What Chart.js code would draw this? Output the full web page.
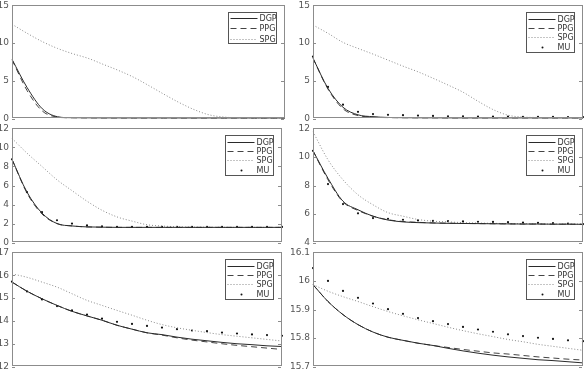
<!DOCTYPE html>
<html>
<head>
<meta charset="UTF-8">
<title>DGP / PPG / SPG / MU</title>
<script src="https://cdn.jsdelivr.net/npm/chart.js"></script>
<style>
  html, body { margin: 0; padding: 0; background: #fff; }
  body { width: 587px; height: 371px; position: relative; overflow: hidden; }
  .panel { position: absolute; }
</style>
</head>
<body>
<script>
// iterations (x axis, not labelled in the figure)
const iterations = [1, 2, 3, 4, 5, 6, 7, 8, 9, 10, 11, 12, 13, 14, 15, 16, 17, 18, 19];

// panel 1 (top left)
const p1Ticks = [0, 5, 10, 15];
const p1Dgp = [7.85, 4.1, 1.3, 0.25, 0.1, 0.07, 0.05, 0.05, 0.04, 0.04, 0.04, 0.03, 0.03, 0.03, 0.03, 0.03, 0.03, 0.03, 0.03];
const p1Ppg = [7.8, 3.7, 1.0, 0.2, 0.08, 0.06, 0.05, 0.04, 0.04, 0.04, 0.04, 0.04, 0.04, 0.04, 0.04, 0.04, 0.04, 0.04, 0.04];
const p1Spg = [12.5, 11.3, 10.2, 9.3, 8.6, 8.0, 7.2, 6.4, 5.5, 4.4, 3.25, 2.15, 1.2, 0.5, 0.2, 0.1, 0.06, 0.05, 0.05];

// panel 2 (top right)
const p2Ticks = [0, 5, 10, 15];
const p2Dgp = [8.0, 4.0, 1.5, 0.5, 0.25, 0.15, 0.1, 0.08, 0.07, 0.06, 0.05, 0.05, 0.05, 0.05, 0.05, 0.05, 0.05, 0.05, 0.05];
const p2Ppg = [8.0, 3.9, 1.3, 0.4, 0.2, 0.12, 0.09, 0.07, 0.06, 0.05, 0.05, 0.05, 0.05, 0.05, 0.05, 0.05, 0.05, 0.05, 0.05];
const p2Spg = [12.4, 11.3, 10.1, 9.3, 8.55, 7.75, 6.95, 6.2, 5.35, 4.45, 3.5, 2.3, 1.2, 0.45, 0.2, 0.15, 0.1, 0.1, 0.1];
const p2Mu  = [8.2, 4.2, 1.85, 0.9, 0.6, 0.5, 0.45, 0.4, 0.35, 0.3, 0.3, 0.28, 0.26, 0.25, 0.24, 0.23, 0.22, 0.21, 0.2];

// panel 3 (middle left)
const p3Ticks = [0, 2, 4, 6, 8, 10, 12];
const p3Dgp = [8.75, 5.3, 3.1, 2.0, 1.75, 1.65, 1.62, 1.6, 1.6, 1.6, 1.6, 1.6, 1.6, 1.6, 1.6, 1.6, 1.6, 1.6, 1.6];
const p3Ppg = [8.75, 5.2, 3.0, 2.0, 1.75, 1.65, 1.62, 1.6, 1.6, 1.6, 1.6, 1.6, 1.6, 1.6, 1.6, 1.6, 1.6, 1.6, 1.6];
const p3Spg = [10.95, 9.4, 8.0, 6.6, 5.46, 4.35, 3.4, 2.7, 2.26, 1.88, 1.74, 1.67, 1.63, 1.62, 1.61, 1.6, 1.6, 1.6, 1.6];
const p3Mu  = [8.75, 5.3, 3.2, 2.35, 2.0, 1.8, 1.7, 1.65, 1.65, 1.65, 1.65, 1.65, 1.65, 1.65, 1.65, 1.65, 1.65, 1.65, 1.65];

// panel 4 (middle right)
const p4Ticks = [4, 6, 8, 10, 12];
const p4Dgp = [10.43, 8.5, 6.9, 6.3, 5.85, 5.58, 5.45, 5.4, 5.37, 5.35, 5.34, 5.33, 5.32, 5.31, 5.3, 5.3, 5.29, 5.29, 5.28];
const p4Ppg = [10.43, 8.4, 6.85, 6.25, 5.85, 5.6, 5.48, 5.42, 5.38, 5.36, 5.34, 5.33, 5.32, 5.31, 5.3, 5.3, 5.29, 5.29, 5.28];
const p4Spg = [11.77, 9.8, 8.4, 7.35, 6.65, 6.1, 5.85, 5.62, 5.5, 5.45, 5.4, 5.37, 5.35, 5.33, 5.32, 5.31, 5.3, 5.3, 5.3];
const p4Mu  = [10.43, 8.1, 6.7, 6.05, 5.72, 5.67, 5.6, 5.55, 5.52, 5.5, 5.48, 5.46, 5.45, 5.43, 5.4, 5.38, 5.36, 5.33, 5.3];

// panel 5 (bottom left)
const p5Ticks = [12, 13, 14, 15, 16, 17];
const p5Dgp = [15.7, 15.3, 14.97, 14.68, 14.42, 14.22, 14.03, 13.81, 13.64, 13.48, 13.4, 13.29, 13.2, 13.13, 13.06, 13.0, 12.96, 12.91, 12.88];
const p5Ppg = [15.7, 15.3, 14.97, 14.68, 14.42, 14.22, 14.03, 13.81, 13.64, 13.48, 13.38, 13.26, 13.16, 13.08, 13.0, 12.93, 12.87, 12.81, 12.75];
const p5Spg = [16.06, 15.91, 15.7, 15.48, 15.19, 14.9, 14.68, 14.46, 14.25, 14.03, 13.84, 13.7, 13.59, 13.49, 13.4, 13.33, 13.26, 13.19, 13.12];
const p5Mu  = [15.72, 15.29, 14.94, 14.65, 14.46, 14.28, 14.1, 13.96, 13.87, 13.78, 13.71, 13.64, 13.58, 13.55, 13.49, 13.45, 13.41, 13.38, 13.35];

// panel 6 (bottom right)
const p6Ticks = [15.7, 15.8, 15.9, 16, 16.1];
const p6Dgp = [15.987, 15.928, 15.882, 15.847, 15.821, 15.803, 15.792, 15.782, 15.774, 15.764, 15.755, 15.747, 15.74, 15.734, 15.729, 15.724, 15.721, 15.717, 15.713];
const p6Ppg = [15.987, 15.928, 15.882, 15.847, 15.821, 15.803, 15.792, 15.782, 15.774, 15.767, 15.76, 15.754, 15.748, 15.744, 15.739, 15.734, 15.73, 15.726, 15.723];
const p6Spg = [15.987, 15.964, 15.945, 15.928, 15.91, 15.893, 15.878, 15.864, 15.851, 15.838, 15.826, 15.815, 15.805, 15.795, 15.787, 15.778, 15.771, 15.764, 15.757];
const p6Mu  = [16.045, 16.0, 15.965, 15.941, 15.921, 15.901, 15.885, 15.87, 15.859, 15.849, 15.839, 15.83, 15.822, 15.813, 15.807, 15.801, 15.797, 15.792, 15.789];

// plot boxes in page pixels
const panels = [
  { left: 12,  top: 5,   w: 273, h: 114, ticks: p1Ticks, series: [p1Dgp, p1Ppg, p1Spg] },
  { left: 313, top: 5,   w: 273, h: 114, ticks: p2Ticks, series: [p2Dgp, p2Ppg, p2Spg, p2Mu] },
  { left: 12,  top: 128, w: 273, h: 115, ticks: p3Ticks, series: [p3Dgp, p3Ppg, p3Spg, p3Mu] },
  { left: 313, top: 128, w: 273, h: 115, ticks: p4Ticks, series: [p4Dgp, p4Ppg, p4Spg, p4Mu] },
  { left: 12,  top: 252, w: 273, h: 115, ticks: p5Ticks, series: [p5Dgp, p5Ppg, p5Spg, p5Mu] },
  { left: 313, top: 252, w: 273, h: 115, ticks: p6Ticks, series: [p6Dgp, p6Ppg, p6Spg, p6Mu] }
];

const names = ['DGP', 'PPG', 'SPG', 'MU'];
const styles = [
  { borderColor: '#2a2a2a', borderDash: [] },
  { borderColor: '#444', borderDash: [6, 4] },
  { borderColor: '#8a8a8a', borderDash: [1, 2] },
  { borderColor: '#111', borderDash: [] }
];

const AXIS_W = 30, PAD_T = 8, PAD_B = 8, PAD_R = 1;

// box frame, inward ticks on both sides, and a legend in the upper right corner
const framePlugin = {
  id: 'frame',
  afterDatasetsDraw(chart) {
    const ctx = chart.ctx, a = chart.chartArea, ys = chart.scales.y;
    ctx.save();
    ctx.strokeStyle = '#8c8c8c';
    ctx.lineWidth = 1;
    ctx.strokeRect(Math.round(a.left) + 0.5, Math.round(a.top) + 0.5,
                   Math.round(a.right - a.left) - 1, Math.round(a.bottom - a.top) - 1);
    ys.ticks.forEach(t => {
      const y = Math.round(ys.getPixelForValue(t.value)) + 0.5;
      ctx.beginPath();
      ctx.moveTo(a.left, y); ctx.lineTo(a.left + 3, y);
      ctx.moveTo(a.right - 1, y); ctx.lineTo(a.right - 4, y);
      ctx.stroke();
    });

    // legend
    const n = chart.data.datasets.length;
    const bw = 48, bh = n === 3 ? 31 : 40;
    const rowOff = n === 3 ? [5, 15.5, 26] : [6.3, 15.6, 24.9, 34.2];
    const bx = Math.round(a.right - 57) + 0.5, by = Math.round(a.top + (n === 3 ? 6.5 : 7)) + 0.5;
    ctx.fillStyle = '#fff';
    ctx.fillRect(bx, by, bw, bh);
    ctx.strokeStyle = '#555';
    ctx.setLineDash([]);
    ctx.strokeRect(bx, by, bw, bh);
    ctx.font = '8px "DejaVu Sans"';
    ctx.textBaseline = 'middle';
    chart.data.datasets.forEach((ds, i) => {
      const y = Math.round(by + rowOff[i]) + 0.5;
      if (ds.showLine === false) {
        ctx.fillStyle = '#111';
        ctx.beginPath();
        ctx.arc(bx + 16, y, 1, 0, Math.PI * 2);
        ctx.fill();
      } else {
        ctx.strokeStyle = ds.borderColor;
        ctx.setLineDash(ds.borderDash);
        ctx.beginPath();
        ctx.moveTo(bx + 2, y); ctx.lineTo(bx + 29, y);
        ctx.stroke();
        ctx.setLineDash([]);
      }
      ctx.fillStyle = '#333';
      ctx.fillText(ds.label, bx + 31, y);
    });
    ctx.restore();
  }
};

panels.forEach(p => {
  const div = document.createElement('div');
  div.className = 'panel';
  const cw = AXIS_W + p.w + PAD_R, chh = PAD_T + p.h + PAD_B;
  div.style.left = (p.left - AXIS_W) + 'px';
  div.style.top = (p.top - PAD_T) + 'px';
  div.style.width = cw + 'px';
  div.style.height = chh + 'px';
  const cv = document.createElement('canvas');
  cv.width = cw; cv.height = chh;
  cv.style.width = cw + 'px'; cv.style.height = chh + 'px';
  div.appendChild(cv);
  document.body.appendChild(div);

  const datasets = p.series.map((vals, i) => {
    const mu = i === 3;
    return {
      label: names[i],
      data: vals,
      borderColor: styles[i].borderColor,
      borderDash: styles[i].borderDash,
      borderWidth: 1,
      showLine: !mu,
      fill: false,
      cubicInterpolationMode: 'monotone',
      pointRadius: mu ? 1.1 : 0,
      pointBorderWidth: 0,
      pointBackgroundColor: '#111'
    };
  });

  new Chart(cv, {
    type: 'line',
    data: { labels: iterations, datasets: datasets },
    options: {
      responsive: false,
      animation: false,
      devicePixelRatio: 1,
      layout: { padding: { left: 0, right: PAD_R, top: PAD_T, bottom: PAD_B } },
      plugins: { legend: { display: false }, tooltip: { enabled: false } },
      scales: {
        x: { display: false, offset: false },
        y: {
          min: p.ticks[0],
          max: p.ticks[p.ticks.length - 1],
          afterBuildTicks: s => { s.ticks = p.ticks.map(v => ({ value: v })); },
          afterFit: s => { s.width = AXIS_W; },
          grid: { display: false, drawTicks: false },
          border: { display: false },
          ticks: {
            padding: 3,
            color: '#555',
            font: { family: 'DejaVu Sans', size: 9 },
            callback: v => String(v)
          }
        }
      }
    },
    plugins: [framePlugin]
  });
});
</script>
</body>
</html>
